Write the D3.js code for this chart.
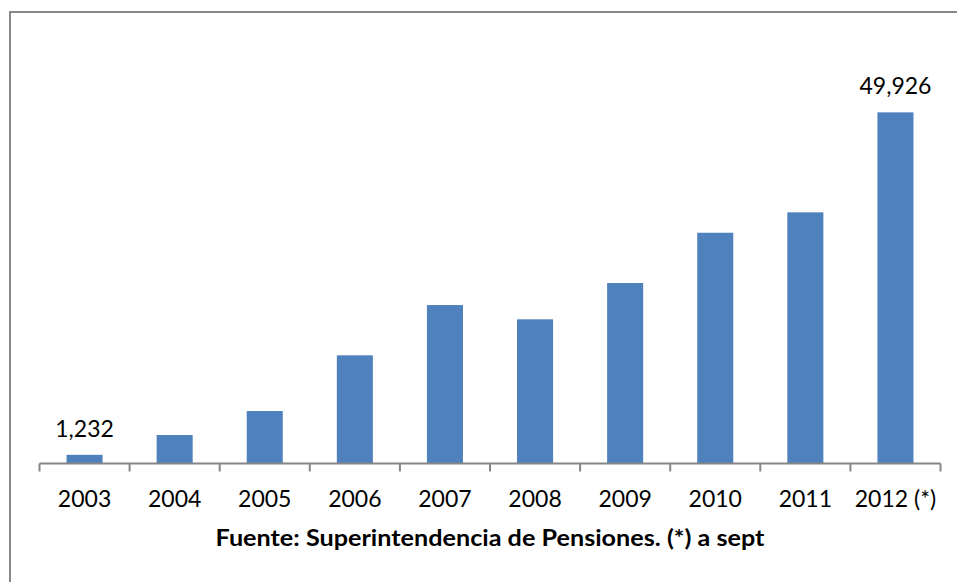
<!DOCTYPE html>
<html>
<head>
<meta charset="utf-8">
<script src="https://cdn.jsdelivr.net/npm/d3@7"></script>
<style>
    body { margin: 0; background: #fff; }
    text { font-family: Lato, "Open Sans", sans-serif; fill: #000; }
</style>
</head>
<body>
<script>
var years = ['2003', '2004', '2005', '2006', '2007', '2008', '2009', '2010', '2011', '2012 (*)'];
var values = [1232, 4050, 7460, 15380, 22530, 20500, 25660, 32810, 35710, 49926];
var labelled = ['2003', '2012 (*)'];
var source = 'Fuente: Superintendencia de Pensiones. (*) a sept';

var width = 957,
    height = 582;

var svg = d3.select('body')
    .append('svg')
    .attr('width', width)
    .attr('height', height);

// frame of the chart, right and bottom edges run past the picture
svg.append('rect')
    .attr('x', 10)
    .attr('y', 12)
    .attr('width', 960)
    .attr('height', 600)
    .attr('fill', 'none')
    .attr('stroke', '#888')
    .attr('stroke-width', 2);

var x = d3.scaleBand()
    .domain(years)
    .range([39.5, 940.5])
    .paddingInner(0.6)
    .paddingOuter(0.3);

var y = d3.scaleLinear()
    .domain([0, 60000])
    .range([463.5, 41.5]);

svg.append('g')
    .selectAll('rect')
    .data(values).enter()
    .append('rect')
    .attr('x', (d, i) => x(years[i]))
    .attr('y', d => y(d))
    .attr('width', x.bandwidth())
    .attr('height', d => y(0) - y(d))
    .attr('fill', '#4F81BD');

// x axis with ticks between the categories
var axis = svg.append('g').attr('class', 'axis');

axis.append('line')
    .attr('x1', x.range()[0])
    .attr('x2', x.range()[1])
    .attr('y1', y(0))
    .attr('y2', y(0))
    .attr('stroke', '#868686')
    .attr('stroke-width', 2);

var step = x.step();
var edges = d3.range(years.length + 1).map(i => x.range()[0] + i * step);

axis.selectAll('.tick')
    .data(edges).enter()
    .append('line')
    .attr('x1', d => d)
    .attr('x2', d => d)
    .attr('y1', y(0))
    .attr('y2', y(0) + 8)
    .attr('stroke', '#868686')
    .attr('stroke-width', 2);

axis.selectAll('text')
    .data(years).enter()
    .append('text')
    .attr('x', d => x(d) + x.bandwidth() / 2)
    .attr('y', 507)
    .attr('text-anchor', 'middle')
    .style('font-size', '23px')
    .text(d => d);

// value labels on first and last bar
var fmt = d3.format(',');

svg.append('g')
    .selectAll('text')
    .data(years.filter(d => labelled.indexOf(d) > -1)).enter()
    .append('text')
    .attr('x', d => x(d) + x.bandwidth() / 2)
    .attr('y', d => y(values[years.indexOf(d)]) - 18)
    .attr('text-anchor', 'middle')
    .style('font-size', '23px')
    .text(d => fmt(values[years.indexOf(d)]));

svg.append('text')
    .attr('x', (x.range()[0] + x.range()[1]) / 2)
    .attr('y', 546)
    .attr('text-anchor', 'middle')
    .attr('textLength', 549)
    .attr('lengthAdjust', 'spacingAndGlyphs')
    .style('font-size', '22px')
    .style('font-weight', 'bold')
    .text(source);
</script>
</body>
</html>
